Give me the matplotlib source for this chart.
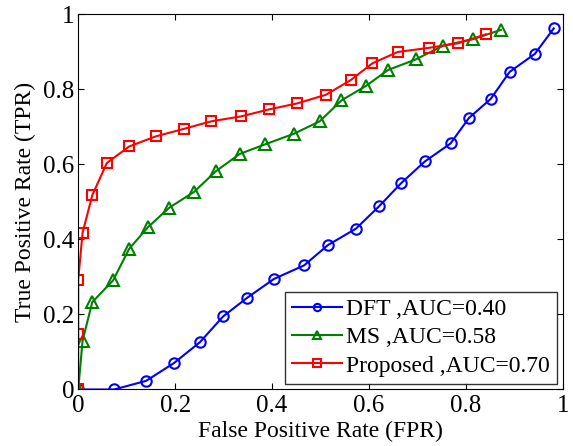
import matplotlib
matplotlib.use("Agg")
import matplotlib.pyplot as plt

plt.rcParams['font.family'] = ['Liberation Serif', 'DejaVu Serif']
plt.rcParams['mathtext.fontset'] = 'stix'

# DFT curve
dft_fpr = [0, 0.074, 0.140, 0.197, 0.251, 0.299, 0.349, 0.404, 0.466, 0.515,
           0.573, 0.621, 0.666, 0.715, 0.768, 0.806, 0.851, 0.890, 0.942, 0.981]
dft_tpr = [0, 0, 0.023, 0.070, 0.126, 0.195, 0.245, 0.295, 0.331, 0.385,
           0.429, 0.489, 0.550, 0.608, 0.656, 0.724, 0.775, 0.847, 0.895, 0.963]

# MS curve
ms_fpr = [0, 0.009, 0.029, 0.072, 0.105, 0.144, 0.188, 0.239, 0.284, 0.333,
          0.386, 0.445, 0.498, 0.543, 0.593, 0.639, 0.696, 0.753, 0.814, 0.872]
ms_tpr = [0, 0.130, 0.233, 0.291, 0.375, 0.433, 0.485, 0.527, 0.582, 0.628,
          0.654, 0.682, 0.715, 0.771, 0.809, 0.852, 0.880, 0.917, 0.934, 0.959]

# Proposed curve
prop_fpr = [0, 0, 0, 0.009, 0.029, 0.059, 0.105, 0.160, 0.218, 0.274,
            0.335, 0.394, 0.452, 0.511, 0.562, 0.607, 0.659, 0.723, 0.783, 0.841]
prop_tpr = [0, 0.148, 0.293, 0.418, 0.518, 0.604, 0.648, 0.675, 0.695, 0.715,
            0.728, 0.747, 0.763, 0.786, 0.825, 0.870, 0.900, 0.911, 0.923, 0.947]

labels = ['DFT ,AUC=0.40', 'MS ,AUC=0.58', 'Proposed ,AUC=0.70']
ticks = [0, 0.2, 0.4, 0.6, 0.8, 1]
tick_labels = ['0', '0.2', '0.4', '0.6', '0.8', '1']

fig = plt.figure(figsize=(5.73, 4.46), dpi=100)
ax = fig.add_axes([0.1365, 0.1267, 0.846, 0.8408])

ax.plot(dft_fpr, dft_tpr, color='blue', marker='o', markersize=7.5,
        markerfacecolor='none', markeredgewidth=1.5, linewidth=1.5, label=labels[0])
ax.plot(ms_fpr, ms_tpr, color='green', marker='^', markersize=8.5,
        markerfacecolor='none', markeredgewidth=1.5, linewidth=1.5, label=labels[1])
ax.plot(prop_fpr, prop_tpr, color='red', marker='s', markersize=7.5,
        markerfacecolor='none', markeredgewidth=1.5, linewidth=1.5, label=labels[2])

ax.set_xlim(0, 1)
ax.set_ylim(0, 1)
ax.set_xticks(ticks)
ax.set_xticklabels(tick_labels)
ax.set_yticks(ticks)
ax.set_yticklabels(tick_labels)
ax.tick_params(direction='in', top=True, right=True, labelsize=18, length=4)
ax.tick_params(axis='x', pad=4)
ax.tick_params(axis='y', pad=3)
ax.set_xlabel('False Positive Rate (FPR)', fontsize=17, labelpad=3)
ax.set_ylabel('True Positive Rate (TPR)', fontsize=17, labelpad=5)

leg = ax.legend(loc='lower right', fontsize=17, frameon=True, fancybox=False,
                edgecolor='black', handlelength=2.1, borderpad=0.3,
                labelspacing=0.28, handletextpad=0.2, borderaxespad=0.25,
                markerscale=0.7)
leg.get_frame().set_linewidth(1.0)

fig.savefig('out.png', dpi=100)
